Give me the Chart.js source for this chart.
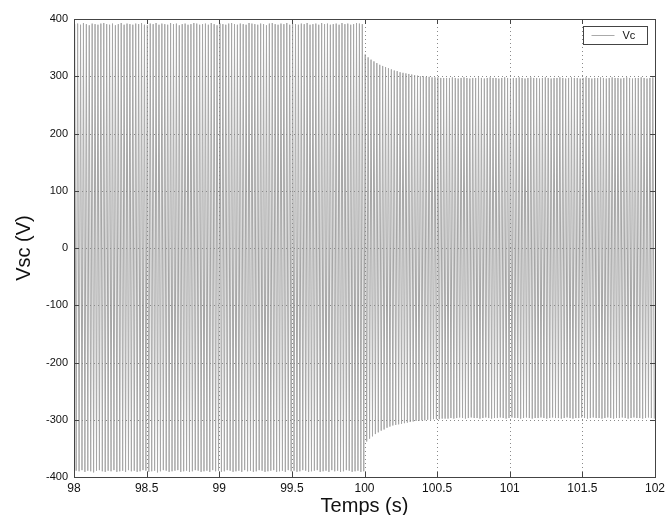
<!DOCTYPE html>
<html><head><meta charset="utf-8">
<script src="https://cdn.jsdelivr.net/npm/chart.js@4/dist/chart.umd.min.js"></script>
<style>html,body{margin:0;padding:0;background:#fff}#wrap{width:665px;height:515px}</style>
</head><body><div id="wrap"><canvas id="c" width="665" height="515"></canvas></div>
<script>
// Positive peak of each 50 Hz cycle (V), 98 s .. 102 s
const posPeaks = [
391,392,390,393,391,389,392,391,390,392,393,391,390,392,389,391,393,390,392,391,
390,392,391,393,390,389,392,391,393,390,392,391,390,393,391,392,389,391,392,390,
391,393,392,390,391,392,390,393,391,389,392,391,390,392,393,391,390,392,391,390,
393,392,391,390,392,391,389,392,393,391,390,392,391,393,390,392,391,390,392,391,
393,390,391,392,390,393,391,392,390,391,392,390,393,391,392,390,391,393,392,391,
338,333,329,326,323,320,318,316,314,312,310,309,307,306,305,304,303,302,301,300,
300,299,299,298,298,298,297,297,297,297,298,297,296,297,298,297,296,297,297,298,
297,296,297,298,297,297,296,297,298,297,296,297,297,298,297,296,297,298,297,297,
296,297,298,297,296,297,297,298,297,296,297,298,297,297,296,297,298,297,296,297,
297,298,297,296,297,298,297,297,296,297,298,297,296,297,297,298,297,296,297,298
];
// Negative peak of each cycle (V)
const negPeaks = [
-389,-390,-388,-391,-389,-390,-392,-389,-388,-390,-391,-389,-390,-388,-391,-390,-389,-391,-388,-390,
-389,-391,-390,-388,-389,-391,-390,-389,-392,-390,-388,-389,-391,-390,-389,-388,-391,-390,-389,-391,
-390,-388,-389,-391,-390,-389,-391,-388,-390,-389,-391,-390,-388,-389,-391,-390,-389,-391,-388,-390,
-389,-391,-390,-388,-389,-391,-390,-389,-388,-391,-390,-389,-391,-388,-390,-389,-391,-390,-388,-389,
-391,-390,-389,-388,-391,-390,-389,-391,-388,-390,-389,-391,-390,-388,-389,-391,-390,-389,-391,-390,
-338,-333,-329,-325,-322,-319,-317,-314,-312,-310,-309,-308,-307,-306,-305,-304,-303,-302,-302,-301,
-301,-300,-300,-299,-299,-299,-298,-298,-298,-297,-298,-297,-296,-297,-298,-297,-296,-297,-297,-298,
-297,-296,-297,-298,-297,-297,-296,-297,-298,-297,-296,-297,-297,-298,-297,-296,-297,-298,-297,-297,
-296,-297,-298,-297,-296,-297,-297,-298,-297,-296,-297,-298,-297,-297,-296,-297,-298,-297,-296,-297,
-297,-298,-297,-296,-297,-298,-297,-297,-296,-297,-298,-297,-296,-297,-297,-298,-297,-296,-297,-298
];
const tStart = 98, cyclePeriod = 0.02;
const xTicks = [98, 98.5, 99, 99.5, 100, 100.5, 101, 101.5, 102];
const yTicks = [-400, -300, -200, -100, 0, 100, 200, 300, 400];
const seriesName = 'Vc';

const points = [];
for (let k = 0; k < posPeaks.length; k++) {
  const t0 = tStart + k * cyclePeriod;
  points.push({x: t0 + cyclePeriod / 4, y: posPeaks[k]});
  points.push({x: t0 + 3 * cyclePeriod / 4, y: negPeaks[k]});
}

const FONT = '"Liberation Sans", Arial, sans-serif';
const frame = {
  id: 'frame',
  afterDatasetsDraw(chart) {
    const {ctx, chartArea: a, scales} = chart;
    ctx.save();
    ctx.strokeStyle = '#8a8a8a';
    ctx.lineWidth = 1;
    ctx.setLineDash([1, 3]);
    xTicks.slice(1, -1).forEach(v => {
      const x = Math.round(scales.x.getPixelForValue(v)) + 0.5;
      ctx.beginPath(); ctx.moveTo(x, a.top); ctx.lineTo(x, a.bottom); ctx.stroke();
    });
    yTicks.slice(1, -1).forEach(v => {
      const y = Math.round(scales.y.getPixelForValue(v)) + 0.5;
      ctx.beginPath(); ctx.moveTo(a.left, y); ctx.lineTo(a.right, y); ctx.stroke();
    });
    ctx.setLineDash([]);
    ctx.strokeStyle = '#444';
    xTicks.forEach(v => {
      const x = Math.round(scales.x.getPixelForValue(v)) + 0.5;
      ctx.beginPath(); ctx.moveTo(x, a.bottom); ctx.lineTo(x, a.bottom - 5); ctx.stroke();
      ctx.beginPath(); ctx.moveTo(x, a.top); ctx.lineTo(x, a.top + 5); ctx.stroke();
    });
    yTicks.forEach(v => {
      const y = Math.round(scales.y.getPixelForValue(v)) + 0.5;
      ctx.beginPath(); ctx.moveTo(a.left, y); ctx.lineTo(a.left + 5, y); ctx.stroke();
      ctx.beginPath(); ctx.moveTo(a.right, y); ctx.lineTo(a.right - 5, y); ctx.stroke();
    });
    ctx.strokeRect(Math.round(a.left) + 0.5, Math.round(a.top) + 0.5, Math.round(a.right - a.left), Math.round(a.bottom - a.top));
    const lx = 583.5, ly = 26.5, lw = 64, lh = 18;
    ctx.fillStyle = '#fff';
    ctx.fillRect(lx, ly, lw, lh);
    ctx.strokeStyle = '#444';
    ctx.strokeRect(lx, ly, lw, lh);
    ctx.strokeStyle = '#aaa';
    ctx.beginPath(); ctx.moveTo(lx + 8, ly + 9); ctx.lineTo(lx + 31, ly + 9); ctx.stroke();
    ctx.fillStyle = '#111';
    ctx.font = '11px ' + FONT;
    ctx.textBaseline = 'middle';
    ctx.fillText(seriesName, lx + 39, ly + 9.5);
    ctx.restore();
  }
};

new Chart(document.getElementById('c'), {
  type: 'line',
  data: {datasets: [{label: seriesName, data: points, borderColor: '#a6a6a6', borderWidth: 1,
    pointRadius: 0, tension: 0, fill: false}]},
  options: {
    responsive: false, animation: false, events: [],
    layout: {padding: {left: 0, right: 10, top: 19, bottom: 0}},
    plugins: {legend: {display: false}, tooltip: {enabled: false}},
    scales: {
      x: {type: 'linear', min: 98, max: 102,
        afterBuildTicks: s => { s.ticks = xTicks.map(v => ({value: v})); },
        afterFit: s => { s.height = 38; s.paddingLeft = 0; s.paddingRight = 0; },
        grid: {display: false, drawTicks: false},
        border: {display: false},
        ticks: {color: '#111', font: {family: FONT, size: 12}, padding: 4, maxRotation: 0, autoSkip: false,
          callback: v => String(v)},
        title: {display: true, text: 'Temps (s)', color: '#111', font: {family: FONT, size: 20}, padding: {top: 0, bottom: -3}}
      },
      y: {min: -400, max: 400,
        afterBuildTicks: s => { s.ticks = yTicks.map(v => ({value: v})); },
        afterFit: s => { s.width = 74; s.paddingTop = 0; s.paddingBottom = 0; },
        grid: {display: false, drawTicks: false},
        border: {display: false},
        ticks: {color: '#111', font: {family: FONT, size: 11}, padding: 6, callback: v => String(v)},
        title: {display: true, text: 'Vsc (V)', color: '#111', font: {family: FONT, size: 20}, padding: {top: 12, bottom: 0}}
      }
    }
  },
  plugins: [frame]
});
</script></body></html>
